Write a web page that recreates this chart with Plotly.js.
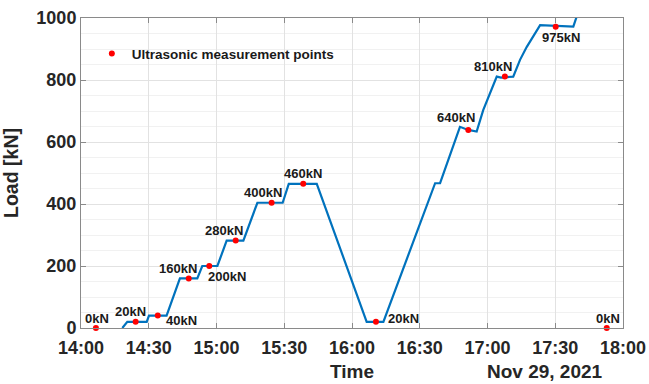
<!DOCTYPE html>
<html>
<head>
<meta charset="utf-8">
<script src="https://cdn.plot.ly/plotly-3.0.1.min.js"></script>
<style>
html,body{margin:0;padding:0;background:#fff;}
#chart{width:649px;height:384px;}
</style>
</head>
<body>
<div id="chart"></div>
<script>
// ---- data (date: Nov 29, 2021) ----
const DAY = "2021-11-29";
const loadTimes = ["14:18:18","14:20:30","14:29:06","14:30:06","14:37:54","14:43:48","14:51:30","14:53:42",
  "15:00:24","15:04:30","15:11:54","15:18:06","15:29:18","15:32:00","15:44:24","16:06:30","16:13:54",
  "16:36:48","16:39:00","16:47:48","16:51:30","16:55:12","16:58:06","17:04:06","17:06:00","17:11:24",
  "17:14:24","17:17:24","17:23:18","17:38:00","17:42:00"];
const loadValues = [0,20,20,40,40,160,160,200,
  200,282,282,404,404,465,465,20,20,
  467,467,649,639,634,703,811,808,811,
  865,907,977,972,1060];

const pointTimes = ["14:06:36","14:24:12","14:34:00","14:47:42","14:56:48","15:08:30","15:24:24","15:38:24",
  "16:10:36","16:51:30","17:07:42","17:30:12","17:52:48"];
const pointValues = [0,20,40,160,200,282,404,465,20,639,811,972,0];
const pointLabels = ["0kN","20kN","40kN","160kN","200kN","280kN","400kN","460kN","20kN","640kN","810kN","975kN","0kN"];

const xTickVals = ["14:00","14:30","15:00","15:30","16:00","16:30","17:00","17:30","18:00"];
const yTickVals = [0,200,400,600,800,1000];

// ---- label placement (pixel offsets from each point) ----
const labelDx = [1,-5,24,-11,18,-12,-9,0,28,-12,-12,5,1];
const labelDy = [10,10,-5,10,-10,10,10,10,3,12,10,-11,10];

const ts = t => DAY + " " + t;
const FONT = "Arial, 'Liberation Sans', sans-serif";
const TXT = "#262626";

const traces = [
  {
    x: loadTimes.map(ts), y: loadValues, type: "scatter", mode: "lines",
    line: {color: "#0072BD", width: 2.2}, showlegend: false, hoverinfo: "skip"
  },
  {
    x: pointTimes.map(ts), y: pointValues, type: "scatter", mode: "markers",
    marker: {color: "#FF0000", size: 6}, name: "Ultrasonic measurement points",
    cliponaxis: false
  }
];

const annotations = pointLabels.map((lab, i) => ({
  x: ts(pointTimes[i]), y: pointValues[i], xref: "x", yref: "y",
  text: lab, showarrow: false, xshift: labelDx[i], yshift: labelDy[i],
  font: {family: FONT, size: 13, weight: "bold", color: "#1a1a1a"}
}));
annotations.push({
  xref: "paper", yref: "paper", x: 0.967, y: -0.141, xanchor: "right", yanchor: "middle",
  text: "Nov 29, 2021", showarrow: false,
  font: {family: FONT, size: 19, weight: "bold", color: TXT}
});

const layout = {
  width: 649, height: 384,
  margin: {l: 81, r: 26, t: 18, b: 56},
  paper_bgcolor: "#ffffff", plot_bgcolor: "#ffffff",
  showlegend: true,
  legend: {x: 0.02, y: 0.885, xanchor: "left", yanchor: "middle", bgcolor: "rgba(0,0,0,0)",
    font: {family: FONT, size: 13.5, weight: "bold", color: "#1a1a1a"}},
  xaxis: {
    type: "date",
    range: [ts("14:00"), ts("18:00")],
    tickvals: xTickVals.map(ts), ticktext: xTickVals,
    showgrid: true, gridcolor: "#e2e2e2", gridwidth: 1,
    zeroline: false, showline: true, linecolor: "#8a8a8a", linewidth: 1,
    mirror: "ticks", ticks: "inside", ticklen: 5, tickcolor: "#8a8a8a",
    ticklabelstandoff: 3,
    tickfont: {family: FONT, size: 18, weight: "bold", color: TXT},
    title: {text: "Time", standoff: 8, font: {family: FONT, size: 19, weight: "bold", color: TXT}}
  },
  yaxis: {
    range: [0, 1000],
    tickvals: yTickVals,
    showgrid: true, gridcolor: "#e2e2e2", gridwidth: 1,
    minor: {dtick: 50, showgrid: true, gridcolor: "#f1f1f1", ticks: ""},
    zeroline: false, showline: true, linecolor: "#8a8a8a", linewidth: 1,
    mirror: "ticks", ticks: "inside", ticklen: 5, tickcolor: "#8a8a8a",
    tickfont: {family: FONT, size: 18, weight: "bold", color: TXT},
    title: {text: "Load [kN]", standoff: 12, font: {family: FONT, size: 19.5, weight: "bold", color: TXT}}
  },
  annotations: annotations
};

Plotly.newPlot("chart", traces, layout, {displayModeBar: false, staticPlot: true});
</script>
</body>
</html>
